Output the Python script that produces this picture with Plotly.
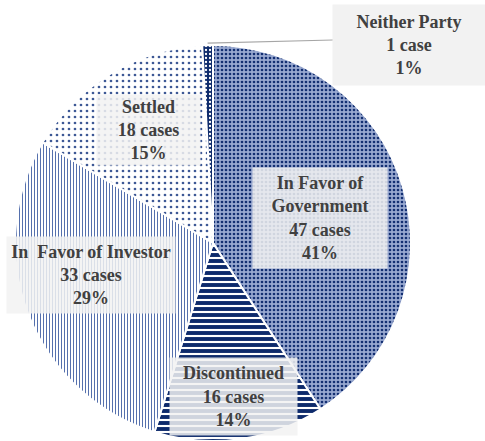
import math
import plotly.graph_objects as go

categories = ["In Favor of Government", "Discontinued", "In Favor of Investor", "Settled", "Neither Party"]
cases = [47, 16, 33, 18, 1]
label_texts = [
    "In Favor of<br>Government<br>47 cases<br>41%",
    "Discontinued<br>16 cases<br>14%",
    "In  Favor of Investor<br>33 cases<br>29%",
    "Settled<br>18 cases<br>15%",
    "Neither Party<br>1 case<br>1%",
]

W, H = 485, 441
bgcols = ["#98a8d0", "#ffffff", "#ffffff", "#ffffff", "#0d2a6b"]
fgcols = ["#132f72", "#0d2a6b", "#5570ad", "#3d5895", "#ffffff"]
shapes = [".", "-", "|", ".", "."]
sizes = [4, 6, 3, 6, 4]
solid = [0.35, 0.65, 0.35, 0.16, 0.25]

dom_x = [0, 426 / W]
dom_y = [0, 396 / H]

fig = go.Figure(go.Pie(
    labels=categories, values=cases, sort=False, direction="clockwise", rotation=0,
    textinfo="none", hoverinfo="label+value+percent",
    domain=dict(x=dom_x, y=dom_y),
    marker=dict(colors=bgcols, line=dict(color="white", width=2),
                pattern=dict(shape=shapes, fgcolor=fgcols, bgcolor=bgcols,
                             size=sizes, solidity=solid, fillmode="replace")),
    showlegend=False,
))

font = dict(family="'Liberation Serif', 'Times New Roman', 'DejaVu Serif', serif", size=18, color="#404040")
# label boxes: (center x px, center y px, width, height, alpha)
boxes = [
    (320, 218, 134, 100, 0.85),
    (233, 396, 127, 77, 0.85),
    (91, 275, 168, 76, 0.85),
    (148, 130, 103, 70, 0.85),
    (409, 45, 152, 80, 1.0),
]
for txt, (cx, cy, w, h, a) in zip(label_texts, boxes):
    fig.add_annotation(
        x=cx / W, y=1 - cy / H, xref="paper", yref="paper",
        text="<b>" + txt + "</b>", showarrow=False, font=font,
        width=w, height=h, borderpad=0, align="center", valign="middle",
        bgcolor=f"rgba(242,242,242,{a})", xanchor="center", yanchor="middle",
    )

# leader line for Neither Party: from its slice edge midpoint to the label box
total = sum(cases)
mid = 360 - 0.5 * cases[-1] / total * 360
pcx = (dom_x[0] + dom_x[1]) / 2 * W
pcy = H - (dom_y[0] + dom_y[1]) / 2 * H
r = min((dom_x[1] - dom_x[0]) * W, (dom_y[1] - dom_y[0]) * H) / 2
sx = pcx + r * math.sin(math.radians(mid))
sy = pcy - r * math.cos(math.radians(mid))
fig.add_shape(type="line", xref="paper", yref="paper",
              x0=sx / W, y0=1 - (sy - 2) / H, x1=333 / W, y1=1 - 40 / H,
              line=dict(color="#a6a6a6", width=1.2))

fig.update_layout(width=W, height=H, margin=dict(l=0, r=0, t=0, b=0),
                  paper_bgcolor="white", plot_bgcolor="white")
fig.write_html("out.html", config={"displayModeBar": False},
               post_script="document.body.style.margin='0';document.body.style.overflow='hidden';")
